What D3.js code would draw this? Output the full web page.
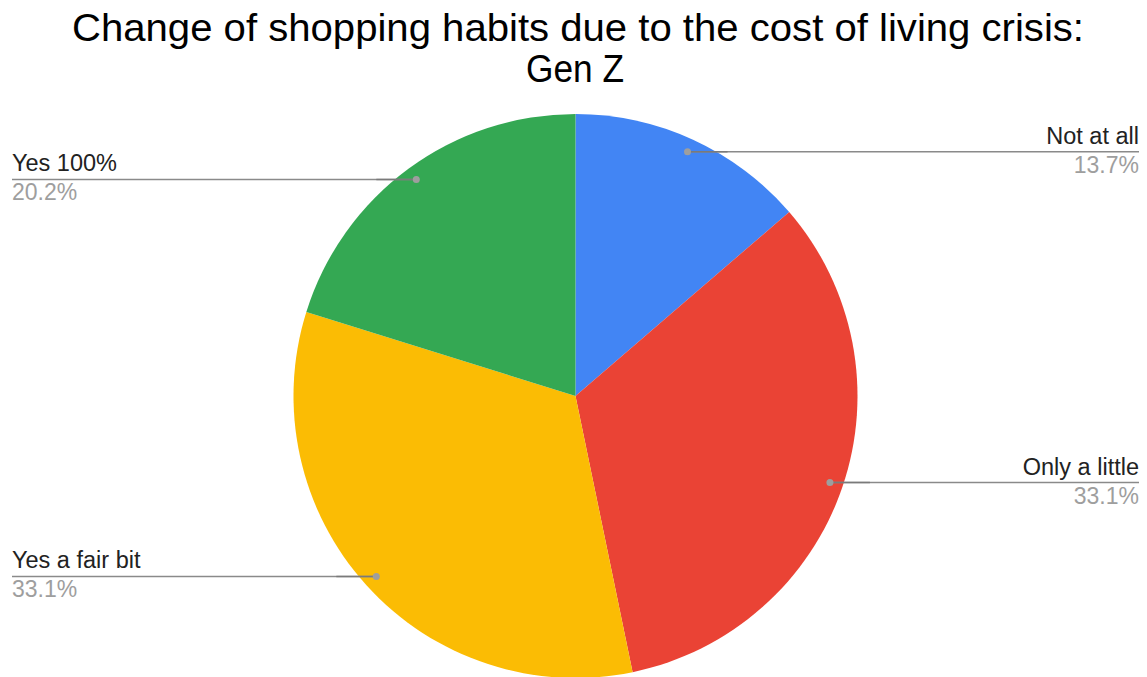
<!DOCTYPE html>
<html>
<head>
<meta charset="utf-8">
<script src="https://cdn.jsdelivr.net/npm/d3@7"></script>
<style>
  html, body { margin: 0; padding: 0; background: #fff; }
  svg { display: block; font-family: "Liberation Sans", Arial, sans-serif; }
</style>
</head>
<body>
<svg id="chart" width="1147" height="677"></svg>
<script>
// Survey answers and their shares (%)
const categories = ["Not at all", "Only a little", "Yes a fair bit", "Yes 100%"];
const values = [13.7, 33.1, 33.1, 20.2];
const valueLabels = ["13.7%", "33.1%", "33.1%", "20.2%"];
const colors = ["#4285F4", "#EA4335", "#FBBC04", "#34A853"];
const titleLines = ["Change of shopping habits due to the cost of living crisis:", "Gen Z"];

const W = 1147, H = 677;
const cx = 575.5, cy = 396, radius = 282;
const dotRadius = radius * 0.953;
const leftEdge = 12, rightEdge = 1139;

const svg = d3.select("#chart");

// Title (two centred lines)
const title = svg.append("g");
title.append("text")
  .attr("x", 578).attr("y", 41)
  .attr("text-anchor", "middle")
  .attr("font-size", 39)
  .attr("fill", "#000")
  .attr("textLength", 1012)
  .attr("lengthAdjust", "spacingAndGlyphs")
  .text(titleLines[0]);
title.append("text")
  .attr("x", 575).attr("y", 82)
  .attr("text-anchor", "middle")
  .attr("font-size", 39)
  .attr("fill", "#000")
  .attr("textLength", 98)
  .attr("lengthAdjust", "spacingAndGlyphs")
  .text(titleLines[1]);

const data = categories.map((c, i) => ({ name: c, value: values[i], label: valueLabels[i], color: colors[i] }));

const pie = d3.pie().sort(null).value(d => d.value);
const arcs = pie(data);
const arc = d3.arc().innerRadius(0).outerRadius(radius);
const dotArc = d3.arc().innerRadius(dotRadius).outerRadius(dotRadius);

const g = svg.append("g").attr("transform", `translate(${cx},${cy})`);

g.selectAll("path.slice")
  .data(arcs)
  .join("path")
  .attr("class", "slice")
  .attr("d", arc)
  .attr("fill", d => d.data.color);

// Leader lines and labels
const labels = svg.append("g");
arcs.forEach(a => {
  const [dx, dy] = dotArc.centroid(a);
  const px = cx + dx, py = cy + dy;
  const right = dx > 0;
  const ex = right ? rightEdge : leftEdge;

  labels.append("line")
    .attr("x1", px).attr("y1", py)
    .attr("x2", ex).attr("y2", py)
    .attr("stroke", "#8a8a8a")
    .attr("stroke-width", 1.5);
  labels.append("line")
    .attr("x1", px).attr("y1", py)
    .attr("x2", px + (right ? 40 : -40)).attr("y2", py)
    .attr("stroke", "#7a7a7a")
    .attr("stroke-width", 1.5);
  labels.append("circle")
    .attr("cx", px).attr("cy", py)
    .attr("r", 3.5)
    .attr("fill", "#9e9e9e");

  const anchor = right ? "end" : "start";
  labels.append("text")
    .attr("x", ex).attr("y", py - 8)
    .attr("text-anchor", anchor)
    .attr("font-size", 23.5)
    .attr("fill", "#222")
    .text(a.data.name);
  labels.append("text")
    .attr("x", ex).attr("y", py + 21)
    .attr("text-anchor", anchor)
    .attr("font-size", 23)
    .attr("fill", "#9e9e9e")
    .text(a.data.label);
});
</script>
</body>
</html>
